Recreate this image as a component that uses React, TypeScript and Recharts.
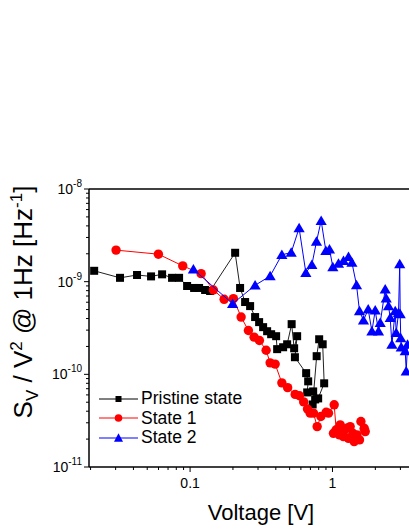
import { ComposedChart, ReferenceLine, Scatter, XAxis, YAxis } from "recharts";

// voltage [V] and normalised noise S_V/V^2 @ 1 Hz [1/Hz]
const pristineV = [
  0.0212, 0.0322, 0.0424, 0.0532, 0.0636, 0.0747, 0.0837, 0.0953, 0.1067,
  0.1157, 0.1275, 0.1382, 0.2072, 0.2245, 0.2435, 0.264, 0.2862, 0.3054,
  0.3258, 0.3476, 0.3709, 0.4021, 0.4087, 0.4502, 0.4805, 0.5167, 0.5381,
  0.5648, 0.5448, 0.6533, 0.6751, 0.6643, 0.7318, 0.7557, 0.7257, 0.7744,
  0.8064, 0.8535, 0.8744, 0.7934,
];
const pristineS = [
  1.31e-9, 1.1e-9, 1.18e-9, 1.14e-9, 1.2e-9, 1.1e-9, 1.1e-9, 8.98e-10,
  8.55e-10, 8.55e-10, 8.13e-10, 7.93e-10, 2.05e-9, 8.55e-10, 6.03e-10,
  5.45e-10, 4.15e-10, 3.66e-10, 3.23e-10, 2.92e-10, 2.71e-10, 2.58e-10,
  1.87e-10, 1.96e-10, 2.11e-10, 3.48e-10, 1.91e-10, 2.58e-10, 1.53e-10,
  1.03e-10, 8.4e-11, 6.38e-11, 6.54e-11, 5.36e-11, 4.73e-11, 1.57e-10,
  2.39e-10, 2.11e-10, 8.0e-11, 5.5e-11,
];

const state1V = [
  0.0302, 0.0599, 0.0888, 0.1195, 0.1458, 0.1734, 0.2015, 0.2283, 0.2568,
  0.2817, 0.3069, 0.342, 0.3649, 0.3958, 0.441, 0.4843, 0.5468, 0.586,
  0.6276, 0.6675, 0.697, 0.7353, 0.7806, 0.8288, 0.903, 0.937, 1.028, 1.062,
  1.016, 1.133, 1.195, 1.262, 1.331, 1.391, 1.42, 1.296, 1.195, 1.12, 1.484,
  1.548, 1.584, 1.671, 1.698,
];
const state1S = [
  2.19e-9, 1.98e-9, 1.48e-9, 1.22e-9, 8.13e-10, 6.45e-10, 6.55e-10, 4.15e-10,
  2.97e-10, 2.52e-10, 2.32e-10, 1.82e-10, 1.33e-10, 1.29e-10, 8.09e-11,
  7.18e-11, 6.07e-11, 5.88e-11, 5.04e-11, 4.23e-11, 3.81e-11, 3.81e-11,
  2.73e-11, 3.51e-11, 3.9e-11, 3.81e-11, 4.69e-11, 2.52e-11, 2.31e-11,
  2.85e-11, 2.41e-11, 2.62e-11, 2.73e-11, 2.31e-11, 1.88e-11, 2.04e-11,
  2.13e-11, 2.22e-11, 2.22e-11, 1.96e-11, 3.1e-11, 2.62e-11, 2.41e-11,
];

const state2V = [
  0.1055, 0.1989, 0.2862, 0.3649, 0.441, 0.5128, 0.5831, 0.6501, 0.7166,
  0.7722, 0.8329, 0.8987, 0.9526, 1.006, 1.102, 1.195, 1.296, 1.369, 1.475,
  1.548, 1.651, 1.782, 1.892, 1.996, 2.105, 2.164, 2.346, 2.385, 2.475,
  2.544, 2.615, 2.758, 2.803, 2.91, 2.967, 2.99, 3.016, 3.04, 3.243, 3.296,
  3.365,
];
const state2S = [
  1.36e-9, 5.78e-10, 9.14e-10, 1.15e-9, 1.95e-9, 2.06e-9, 3.79e-9, 1.25e-9,
  1.52e-9, 2.71e-9, 4.55e-9, 2.15e-9, 2.24e-9, 1.44e-9, 1.57e-9, 1.68e-9,
  1.85e-9, 1.61e-9, 9.21e-10, 4.82e-10, 3.82e-10, 5.02e-10, 2.92e-10,
  4.9e-10, 2.92e-10, 3.6e-10, 8.28e-10, 6.61e-10, 5.46e-10, 4.07e-10,
  2.1e-10, 4.82e-10, 2.8e-10, 4.61e-10, 1.55e-9, 4.47e-10, 2.47e-10,
  1.96e-10, 1.78e-10, 1.08e-10, 2.1e-10,
];

const xMajorTicks = [0.1, 1];
const yMajorTicks = [1e-11, 1e-10, 1e-9, 1e-8];
const seriesNames = ["Pristine state", "State 1", "State 2"];

const zip = (xs: number[], ys: number[]) =>
  xs.map((x, i) => ({ x, y: ys[i] }));

const pristine = zip(pristineV, pristineS);
const state1 = zip(state1V, state1S);
const state2 = zip(state2V, state2S);

// minor ticks 1..9 within each decade
const minorTicks = (start: number, end: number) => {
  const out: number[] = [];
  for (let d = start; d < end; d++) {
    for (let m = 1; m < 10; m++) {
      out.push(Number((m * Math.pow(10, d)).toPrecision(3)));
    }
  }
  return out;
};
const xTicks = minorTicks(-2, 1).filter((v) => v >= 0.02 && v <= 5);
const yTicks = [...minorTicks(-11, -8), 1e-8];

const isMajor = (v: number, majors: number[]) =>
  majors.some((m) => Math.abs(v / m - 1) < 1e-6);

const FONT = "'Liberation Sans', Arial, sans-serif";

const XTick = (props: any) => {
  const { x, y, payload } = props;
  const major = isMajor(payload.value, xMajorTicks);
  return (
    <g>
      <line x1={x} x2={x} y1={y} y2={y + (major ? 5 : 3)} stroke="#000" strokeWidth={1} />
      {major && (
        <text x={x} y={y + 21} textAnchor="middle" fontSize={14} fontFamily={FONT} fill="#000">
          {payload.value}
        </text>
      )}
    </g>
  );
};

const YTick = (props: any) => {
  const { x, y, payload } = props;
  const major = isMajor(payload.value, yMajorTicks);
  const exp = Math.round(Math.log10(payload.value));
  return (
    <g>
      <line x1={x - (major ? 5 : 3)} x2={x} y1={y} y2={y} stroke="#000" strokeWidth={1} />
      {major && (
        <text x={x - 7} y={y + 5} textAnchor="end" fontSize={14} fontFamily={FONT} fill="#000">
          10
          <tspan dy={-7} fontSize={10}>
            {exp}
          </tspan>
        </text>
      )}
    </g>
  );
};

const Square = (p: any) => (
  <rect x={p.cx - 4} y={p.cy - 4} width={8} height={8} fill="#000" />
);
const Dot = (p: any) => <circle cx={p.cx} cy={p.cy} r={4.7} fill="#ff0000" />;
const Tri = (p: any) => (
  <polygon
    points={`${p.cx},${p.cy - 5.3} ${p.cx + 5.6},${p.cy + 4.2} ${p.cx - 5.6},${p.cy + 4.2}`}
    fill="#0000ff"
  />
);

const legendItems = [
  { name: seriesNames[0], color: "#000", marker: "square" },
  { name: seriesNames[1], color: "#ff0000", marker: "circle" },
  { name: seriesNames[2], color: "#0000ff", marker: "triangle" },
];

const LegendBox = () => (
  <div
    style={{
      position: "absolute",
      left: 99,
      top: 389,
      fontFamily: FONT,
      fontSize: 17.5,
      color: "#000",
    }}
  >
    {legendItems.map((it) => (
      <div key={it.name} style={{ display: "flex", alignItems: "center", height: 19.5 }}>
        <svg width={42} height={12} style={{ display: "block" }}>
          <line x1={0} x2={39} y1={6} y2={6} stroke={it.color} strokeWidth={1} />
          {it.marker === "square" && <rect x={16.5} y={3} width={6} height={6} fill={it.color} />}
          {it.marker === "circle" && <circle cx={19.5} cy={6} r={3.8} fill={it.color} />}
          {it.marker === "triangle" && (
            <polygon points="19.5,1.3 24,9.8 15,9.8" fill={it.color} />
          )}
        </svg>
        <span style={{ whiteSpace: "nowrap" }}>{it.name}</span>
      </div>
    ))}
  </div>
);

export default function App() {
  return (
    <div
      style={{
        position: "absolute",
        left: 0,
        top: 0,
        width: 409,
        height: 529,
        overflow: "hidden",
        background: "#fff",
      }}
    >
      <ComposedChart
        width={432}
        height={529}
        margin={{ top: 189, right: 0, bottom: 0, left: 0 }}
      >
        <XAxis
          dataKey="x"
          type="number"
          scale="log"
          domain={[0.0195, 5]}
          allowDataOverflow
          ticks={xTicks}
          interval={0}
          tick={<XTick />}
          tickLine={false}
          tickSize={0}
          tickMargin={0}
          height={62}
          axisLine={{ stroke: "#000", strokeWidth: 1.5 }}
          label={() => (
            <text x={261} y={520} textAnchor="middle" fontSize={22} fontFamily={FONT} fill="#000">
              Voltage [V]
            </text>
          )}
        />
        <YAxis
          dataKey="y"
          type="number"
          scale="log"
          domain={[1e-11, 1e-8]}
          allowDataOverflow
          ticks={yTicks}
          interval={0}
          tick={<YTick />}
          tickLine={false}
          tickSize={0}
          tickMargin={0}
          width={89}
          axisLine={{ stroke: "#000", strokeWidth: 1.5 }}
          label={() => (
            <text
              transform="translate(32, 302) rotate(-90)"
              textAnchor="middle"
              fontSize={26}
              fontFamily={FONT}
              fill="#000"
            >
              S<tspan dy={6} fontSize={17}>V</tspan>
              <tspan dy={-6}> / V</tspan>
              <tspan dy={-10} fontSize={17}>2</tspan>
              <tspan dy={10}> @ 1Hz [Hz</tspan>
              <tspan dy={-10} fontSize={17}>-1</tspan>
              <tspan dy={10}>]</tspan>
            </text>
          )}
        />
        <ReferenceLine y={1e-8} stroke="#000" strokeWidth={1.5} ifOverflow="visible" />
        <Scatter
          name={seriesNames[0]}
          data={pristine}
          shape={<Square />}
          line={{ stroke: "#222", strokeWidth: 1 }}
          lineType="joint"
          isAnimationActive={false}
        />
        <Scatter
          name={seriesNames[1]}
          data={state1}
          shape={<Dot />}
          line={{ stroke: "#ff0000", strokeWidth: 1 }}
          lineType="joint"
          isAnimationActive={false}
        />
        <Scatter
          name={seriesNames[2]}
          data={state2}
          shape={<Tri />}
          line={{ stroke: "#0000ff", strokeWidth: 1 }}
          lineType="joint"
          isAnimationActive={false}
        />
      </ComposedChart>
      <LegendBox />
    </div>
  );
}
